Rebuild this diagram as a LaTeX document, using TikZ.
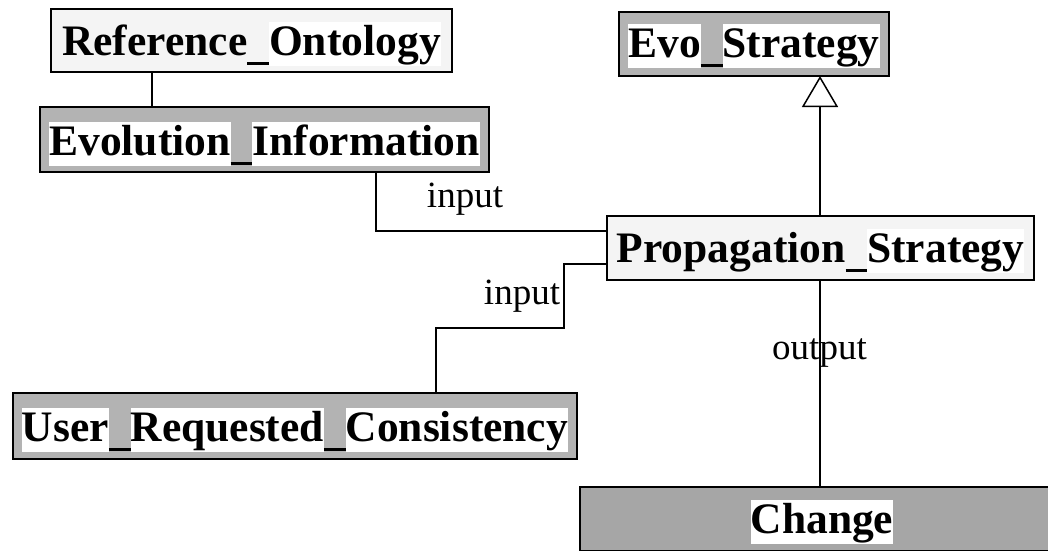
\documentclass[tikz,border=0pt]{standalone}
\usepackage{fontspec}
\setmainfont{Liberation Serif}
\usetikzlibrary{arrows.meta}
\definecolor{lightfill}{HTML}{F4F4F4}
\definecolor{midgray}{HTML}{B3B3B3}
\definecolor{changegray}{HTML}{A6A6A6}
\newcommand{\hlw}[1]{{\setlength{\fboxsep}{0pt}\colorbox{white}{\rule[-0.25em]{0pt}{1em}#1}}}
\newcommand{\plw}[1]{\rule[-0.25em]{0pt}{1em}#1}
\newcommand{\usc}{\rule[-0.24em]{0.5em}{0.085em}}
\begin{document}
\begin{tikzpicture}[x=1pt,y=-1pt,
  boxbase/.style={draw=black, line width=2pt, inner sep=0pt, outer sep=0pt},
  lightbox/.style={boxbase, fill=lightfill},
  graybox/.style={boxbase, fill=midgray},
  changebox/.style={boxbase, fill=changegray},
  boxtext/.style={anchor=base, inner sep=0pt, font=\fontsize{43.5}{50}\selectfont\bfseries},
  lbl/.style={anchor=base, inner sep=0pt, font=\fontsize{37}{42}\selectfont},
  conn/.style={draw=black, line width=1.2pt}]
\useasboundingbox (0,0) rectangle (1048,550);
\clip (0,0) rectangle (1048,550);
% boxes
\node[lightbox, minimum width=401pt, minimum height=63pt] (ref) at (251.5,40.5) {};
\node[graybox, minimum width=449pt, minimum height=65pt] (evi) at (264.5,139.5) {};
\node[graybox, minimum width=270pt, minimum height=64pt] (evo) at (754,44) {};
\node[lightbox, minimum width=427pt, minimum height=64pt] (prop) at (820.5,248) {};
\node[graybox, minimum width=564pt, minimum height=66pt] (user) at (295,426) {};
\node[changebox, minimum width=484pt, minimum height=64pt] (change) at (822,519) {};
% box texts
\node[boxtext] (reft) at (251.5,55) {\plw{Reference}\usc\hlw{Ontology}};
\node[boxtext] (evit) at (264.5,155) {\hlw{Evolution}\usc\hlw{Information}};
\node[boxtext] (evot) at (754,57) {\hlw{Evo}\usc\hlw{Strategy}};
\node[boxtext] (propt) at (820.5,262) {\plw{Propagation}\usc\hlw{Strategy}};
\node[boxtext] (usert) at (295,441) {\hlw{User}\usc\hlw{Requested}\usc\hlw{Consistency}};
\node[boxtext] (changet) at (822,533) {\hlw{Change}};
% connectors
\draw[conn] ([xshift=101pt]ref.south west) -- ([xshift=101pt]ref.south west |- evi.north);
\draw[conn] ([xshift=336pt]evi.south west) |- ([yshift=-15pt]prop.north west);
\coordinate (bend) at (564,328);
\draw[conn] ([xshift=423pt]user.north west) |- (bend) |- ([yshift=-48pt]prop.north west);
\draw[conn, -{Triangle[open, length=31pt, width=36pt, line width=1.5pt]}]
  ([xshift=213pt]prop.north west) -- ([xshift=213pt]prop.north west |- evo.south);
\draw[conn] ([xshift=213pt]prop.south west) -- ([xshift=213pt]prop.south west |- change.north);
% labels
\node[lbl] (in1) at (465,207) {input};
\node[lbl] (in2) at (522,304) {input};
\node[lbl] (out) at (819.5,359) {output};
\end{tikzpicture}
\end{document}
